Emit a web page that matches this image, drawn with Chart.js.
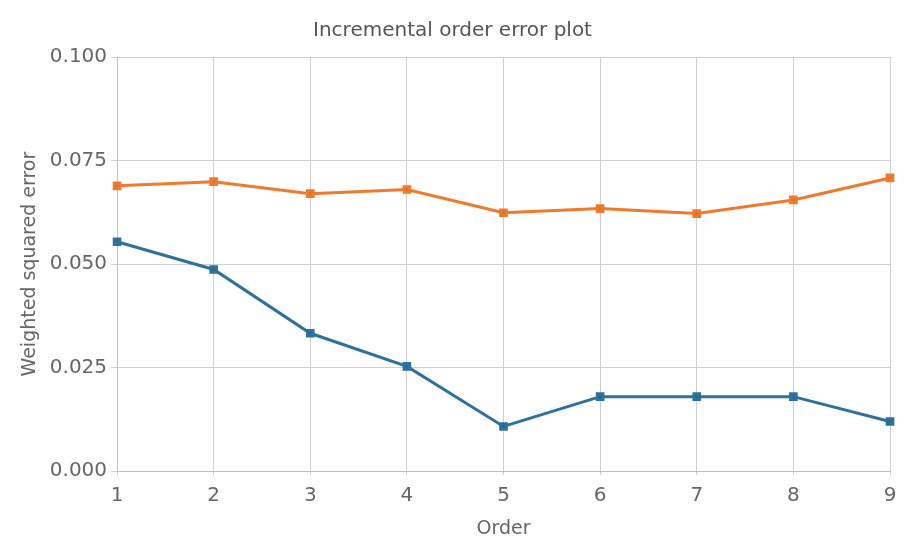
<!DOCTYPE html>
<html>
<head>
<meta charset="utf-8">
<script src="https://cdn.jsdelivr.net/npm/chart.js@4/dist/chart.umd.min.js"></script>
<style>
html,body{margin:0;padding:0;background:#fff;}
#wrap{width:907px;height:541px;}
</style>
</head>
<body>
<div id="wrap"><canvas id="c" width="907" height="541"></canvas></div>
<script>
const orders = ["1","2","3","4","5","6","7","8","9"];
const seriesA = [0.0689, 0.0699, 0.0670, 0.0680, 0.0624, 0.0634, 0.0622, 0.0655, 0.0708];
const seriesB = [0.0554, 0.0487, 0.0333, 0.0253, 0.0108, 0.0180, 0.0180, 0.0180, 0.0120];
const yTicks = [0, 0.025, 0.05, 0.075, 0.1];

const fontFam = "'DejaVu Sans'";
Chart.defaults.font.family = fontFam;
new Chart(document.getElementById('c'), {
  type: 'line',
  data: {
    labels: orders,
    datasets: [
      {label: 'A', data: seriesA, borderColor: '#f07a2a', backgroundColor: '#e0702a',
       borderWidth: 3, pointRadius: 4, pointStyle: 'rect', tension: 0},
      {label: 'B', data: seriesB, borderColor: '#2c72a0', backgroundColor: '#2a6a90',
       borderWidth: 3, pointRadius: 4, pointStyle: 'rect', tension: 0}
    ]
  },
  options: {
    responsive: false,
    animation: false,
    devicePixelRatio: 1,
    layout: {padding: {left: 15, right: 17, top: 11, bottom: 1}},
    plugins: {
      legend: {display: false},
      tooltip: {enabled: false},
      title: {display: true, text: 'Incremental order error plot', color: '#555',
        font: {family: fontFam, size: 20, weight: 'normal'}, padding: {top: 8, bottom: 14}}
    },
    scales: {
      x: {
        offset: false,
        grid: {color: '#d0d0d0', lineWidth: 1, drawTicks: true, tickLength: 4},
        border: {color: '#c0c0c0'},
        ticks: {color: '#666', font: {family: fontFam, size: 20}, padding: 9},
        title: {display: true, text: 'Order', color: '#666', font: {family: fontFam, size: 19}, padding: {top: 0, bottom: 0}}
      },
      y: {
        min: 0, max: 0.1,
        afterBuildTicks: (s) => { s.ticks = yTicks.map(v => ({value: v})); },
        grid: {color: '#d0d0d0', lineWidth: 1, tickLength: 6},
        border: {color: '#c0c0c0'},
        ticks: {color: '#666', font: {family: fontFam, size: 20}, padding: 4,
          callback: (v) => Number(v).toFixed(3)},
        title: {display: true, text: 'Weighted squared error', color: '#666', font: {family: fontFam, size: 19}, padding: {bottom: 4}}
      }
    }
  }
});
</script>
</body>
</html>
